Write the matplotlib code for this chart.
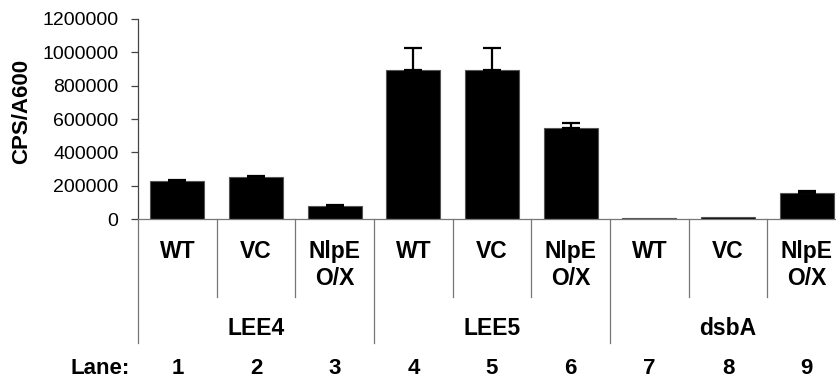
import matplotlib
matplotlib.use('Agg')
import matplotlib.pyplot as plt
import matplotlib.transforms as mtransforms

plt.rcParams['font.family'] = ['Liberation Sans', 'DejaVu Sans']

# data
STRAINS = ['WT', 'VC', 'NlpE\nO/X'] * 3
GROUPS = ['LEE4', 'LEE5', 'dsbA']
LANES = ['1', '2', '3', '4', '5', '6', '7', '8', '9']
VALUES = [226000, 250000, 78000, 893000, 893000, 548000, 8000, 10000, 158000]
ERRORS = [10000, 10000, 8000, 135000, 135000, 28000, 0, 0, 10000]
YTICKS = [0, 200000, 400000, 600000, 800000, 1000000, 1200000]

W, H = 836, 383
fig = plt.figure(figsize=(W/100, H/100), dpi=100)
# axes runs past the right edge on purpose (reference is cropped there)
ax = fig.add_axes([138/W, 1-219/H, 708/W, 200/H])

x = list(range(len(VALUES)))
ax.bar(x, VALUES, width=0.69, color='black', edgecolor='#555555', lw=0.8, zorder=2)
ex = [i for i in x if ERRORS[i] > 0]
ax.errorbar(ex, [VALUES[i] for i in ex], yerr=[[0]*len(ex), [ERRORS[i] for i in ex]],
            fmt='none', ecolor='black', elinewidth=1.6, capsize=6.5, capthick=1.6, zorder=3)

ax.set_xlim(-0.5, 8.5); ax.set_ylim(0, 1200000)
ax.set_yticks(YTICKS); ax.set_yticklabels([str(v) for v in YTICKS], fontsize=14)
ax.set_xticks([])
ax.tick_params(axis='y', length=5, width=0.9, color='#444444', pad=9)
for s in ['top', 'right']: ax.spines[s].set_visible(False)
ax.spines['left'].set_color('#444444'); ax.spines['bottom'].set_color('#777777')
ax.spines['left'].set_linewidth(0.9); ax.spines['bottom'].set_linewidth(0.9)

fig.text(22/W, 1-111/H, 'CPS/A600', rotation=90, ha='center', va='center',
         fontsize=16, fontweight='bold')

# table underneath the axis
tr = mtransforms.blended_transform_factory(ax.transData, ax.transAxes)
def fy(py): return (219 - py) / 200.0
for i in range(len(VALUES) + 1):
    bound = i % 3 == 0
    ax.plot([i - 0.5, i - 0.5], [0, fy(343 if bound else 297)], transform=tr,
            color='#777777', lw=0.9, clip_on=False)
for i, lab in enumerate(STRAINS):
    ax.text(i, fy(240), lab, transform=tr, ha='center', va='top', fontsize=16.5,
            fontweight='bold', linespacing=1.2)
for g, lab in enumerate(GROUPS):
    ax.text(3*g + 1, fy(328), lab, transform=tr, ha='center', va='center',
            fontsize=16.5, fontweight='bold')
for i, lab in enumerate(LANES):
    ax.text(i, fy(368), lab, transform=tr, ha='center', va='center',
            fontsize=16, fontweight='bold')
fig.text(100/W, 1-368/H, 'Lane:', ha='center', va='center', fontsize=16, fontweight='bold')

fig.savefig('out.png', dpi=100)
